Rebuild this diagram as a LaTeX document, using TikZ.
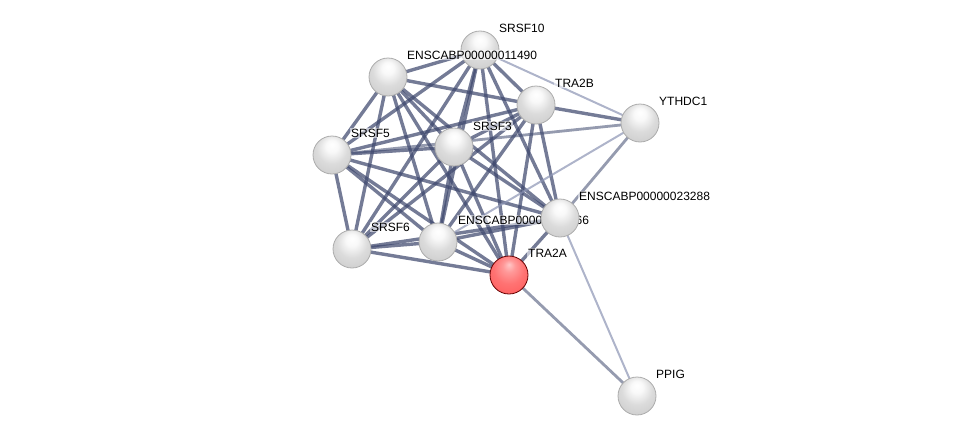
\documentclass[tikz,border=0pt]{standalone}
\usepackage{fontspec}
\setmainfont{Liberation Sans}
\definecolor{edgedark}{RGB}{62,72,110}
\definecolor{edgelight}{RGB}{140,148,180}
\pgfdeclareradialshading{greysphere}{\pgfpoint{0bp}{14bp}}{%
  color(0bp)=(white); color(8bp)=(white!95!gray); color(20bp)=(gray!28); color(32bp)=(gray!38); color(42bp)=(gray!55); color(50bp)=(gray!85)}
\pgfdeclareradialshading{redsphere}{\pgfpoint{0bp}{14bp}}{%
  color(0bp)=(red!22!white); color(8bp)=(red!40!white); color(20bp)=(red!55!white); color(32bp)=(red!62!white); color(42bp)=(red!60!black!70!white); color(50bp)=(red!45!black)}
\tikzset{
  e/.style={draw=edgedark, line width=3.4pt, draw opacity=0.72},
  em/.style={draw=edgedark, line width=2.8pt, draw opacity=0.55},
  el/.style={draw=edgelight, line width=2pt, draw opacity=0.7},
  prot/.style={circle, minimum size=38pt, inner sep=0pt, shading=greysphere, draw=gray!65, line width=0.8pt},
  protred/.style={prot, shading=redsphere, draw=red!40!black},
  lbl/.style={font=\fontsize{12pt}{14pt}\selectfont, text=black, inner sep=1pt, fill=white, fill opacity=0.55, text opacity=1, anchor=base west}
}
\begin{document}
\begin{tikzpicture}[x=1pt,y=-1pt]
\useasboundingbox (0,0) rectangle (976,442);
% node coordinates
\coordinate (A) at (480,50);
\coordinate (B) at (388,77);
\coordinate (C) at (536,105);
\coordinate (D) at (640,123);
\coordinate (E) at (332,155);
\coordinate (F) at (454,147);
\coordinate (G) at (560,218);
\coordinate (H) at (352,249);
\coordinate (I) at (438,242);
\coordinate (J) at (509,275);
\coordinate (K) at (637,396);
% dense cluster edges
\foreach \p/\q in {A/B,A/C,A/E,A/F,A/G,A/H,A/I,A/J,
                   B/C,B/E,B/F,B/G,B/H,B/I,B/J,
                   C/E,C/F,C/G,C/H,C/I,C/J,
                   E/F,E/G,E/H,E/I,E/J,
                   F/G,F/H,F/I,F/J,
                   G/H,G/I,G/J,
                   H/I,H/J,
                   I/J}
  {\draw[e] (\p) -- (\q);}
% YTHDC1 / PPIG edges
\draw[e] (C) -- (D);
\draw[em] (E) -- (D);
\draw[em] (G) -- (D);
\draw[el] (A) -- (D);
\draw[el] (I) -- (D);
\draw[em] (J) -- (K);
\draw[el] (G) -- (K);
% nodes with labels
\node[prot] (nA) at (A) {};
\node[lbl] (lA) at (498,32) {SRSF10};
\node[prot] (nB) at (B) {};
\node[lbl] (lB) at (406,59) {ENSCABP00000011490};
\node[prot] (nC) at (C) {};
\node[lbl] (lC) at (554,87) {TRA2B};
\node[prot] (nD) at (D) {};
\node[lbl] (lD) at (658,105) {YTHDC1};
\node[prot] (nE) at (E) {};
\node[lbl] (lE) at (350,137) {SRSF5};
\node[prot] (nF) at (F) {};
\node[lbl] (lF) at (472,130) {SRSF3};
\node[prot] (nH) at (H) {};
\node[lbl] (lH) at (370,231) {SRSF6};
\node[prot] (nI) at (I) {};
\node[lbl] (lI) at (457,224) {ENSCABP00000013566};
\node[prot] (nG) at (G) {};
\node[lbl] (lG) at (578,200) {ENSCABP00000023288};
\node[protred] (nJ) at (J) {};
\node[lbl] (lJ) at (527,257) {TRA2A};
\node[prot] (nK) at (K) {};
\node[lbl] (lK) at (655,378) {PPIG};
\end{tikzpicture}
\end{document}
